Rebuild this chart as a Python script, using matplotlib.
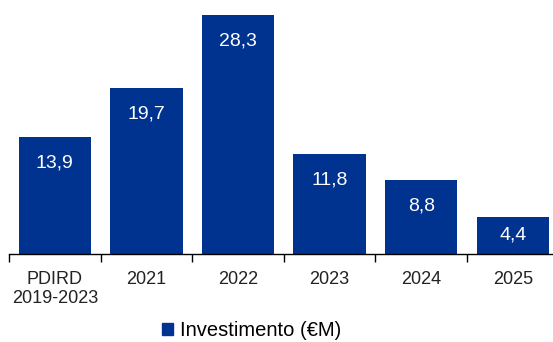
import matplotlib.pyplot as plt
from matplotlib.patches import Patch

categories = ['PDIRD\n2019-2023', '2021', '2022', '2023', '2024', '2025']
investimento = [13.9, 19.7, 28.3, 11.8, 8.8, 4.4]
value_labels = ['13,9', '19,7', '28,3', '11,8', '8,8', '4,4']

bar_color = '#00338F'
plt.rcParams['font.family'] = ['Liberation Sans', 'DejaVu Sans']

fig = plt.figure(figsize=(5.53, 3.42), dpi=100)
ax = fig.add_axes([9 / 553, 1 - 254 / 342, 544 / 553, 254 / 342])

x = range(len(categories))
ax.bar(x, investimento, width=0.79, color=bar_color, zorder=2)

ax.set_ylim(0, 30.06)
ax.set_xlim(-0.5, 544 / 91.6 - 0.5)

# value labels sit near the top of each bar, centred on short bars
px_per_unit = 254 / 30.06
for i, (v, lab) in enumerate(zip(investimento, value_labels)):
    y = v - 26 / px_per_unit
    if y < v / 2:
        y = v / 2
    ax.text(i, y, lab, ha='center', va='center', color='white', fontsize=14)

for s in ['top', 'right', 'left']:
    ax.spines[s].set_visible(False)
ax.spines['bottom'].set_linewidth(1.0)
ax.set_yticks([])

ax.set_xticks([i - 0.5 for i in range(len(categories))], minor=False)
ax.set_xticklabels([])
ax.tick_params(axis='x', which='major', length=6, width=1.0, direction='out')
ax.set_xticks(list(x), minor=True)
ax.set_xticklabels(categories, minor=True, fontsize=13, color='#222222')
ax.tick_params(axis='x', which='minor', length=0, pad=12)

fig.legend(handles=[Patch(color=bar_color, label='Investimento (€M)')],
           loc='center', bbox_to_anchor=(252 / 553, 1 - 331 / 342),
           frameon=False, fontsize=14.5, handlelength=0.55, handleheight=0.55,
           handletextpad=0.35, borderpad=0)

fig.savefig('out.png', dpi=100)
